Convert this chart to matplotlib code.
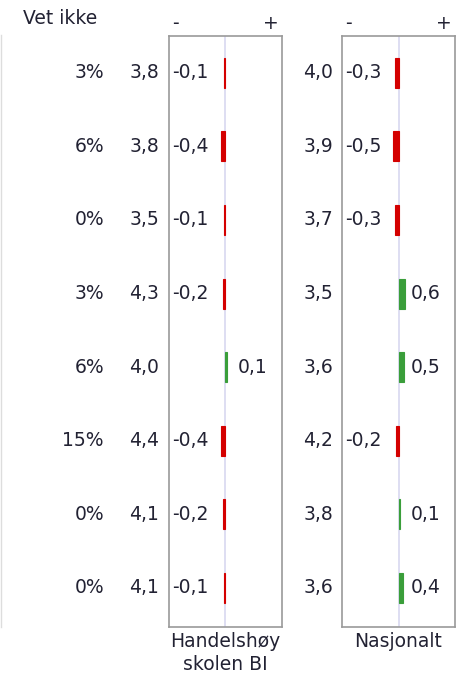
import numpy as np
import matplotlib.pyplot as plt
from matplotlib.transforms import blended_transform_factory
from matplotlib.lines import Line2D

vet_ikke = [3, 6, 0, 3, 6, 15, 0, 0]
snitt_bi = [3.8, 3.8, 3.5, 4.3, 4.0, 4.4, 4.1, 4.1]
diff_bi = [-0.1, -0.4, -0.1, -0.2, 0.1, -0.4, -0.2, -0.1]
snitt_nasj = [4.0, 3.9, 3.7, 3.5, 3.6, 4.2, 3.8, 3.6]
diff_nasj = [-0.3, -0.5, -0.3, 0.6, 0.5, -0.2, 0.1, 0.4]
kolonner = ["Handelshøy\nskolen BI", "Nasjonalt"]

W, H = 460, 676
fig = plt.figure(figsize=(W / 100, H / 100), dpi=100)
plt.rcParams['font.family'] = ['DejaVu Sans']
fs = 13.5
tc = "#222233"
red = "#d40000"
green = "#3a9e3a"


def fx(px):
    return px / W


def fy(px):
    return 1 - px / H


def fmt(v):
    return f"{v:.1f}".replace(".", ",")


top, bottom = 36, 627
boxes = [(169, 282), (342, 455)]
axes = []
for (x0, x1), diffs in zip(boxes, [diff_bi, diff_nasj]):
    ax = fig.add_axes([fx(x0), fy(bottom), (x1 - x0) / W, (bottom - top) / H])
    ax.set_xlim(-5.5, 5.5)
    ax.set_ylim(7.53, -0.5)
    ax.set_xticks([])
    ax.set_yticks([])
    for s in ax.spines.values():
        s.set_color("#9a9a9a")
        s.set_linewidth(1.2)
    ax.axvline(0, color="#d8d8f0", lw=1.2, zorder=1)
    y = np.arange(len(diffs))
    cols = [green if d > 0 else red for d in diffs]
    ax.barh(y, diffs, height=0.41, color=cols, edgecolor=cols, linewidth=0.8, zorder=2)
    for yi, d in zip(y, diffs):
        if d < 0:
            ax.text(0.025, yi, fmt(d), transform=blended_transform_factory(ax.transAxes, ax.transData),
                    ha="left", va="center", fontsize=fs, color=tc)
        else:
            ax.text(1.2, yi, fmt(d), ha="left", va="center", fontsize=fs, color=tc)
    ax.text(0.03, 1.005, "-", transform=ax.transAxes, ha="left", va="bottom", fontsize=fs, color=tc)
    ax.text(0.97, 1.005, "+", transform=ax.transAxes, ha="right", va="bottom", fontsize=fs, color=tc)
    axes.append(ax)

tr = blended_transform_factory(fig.transFigure, axes[0].transData)
for i in range(len(vet_ikke)):
    axes[0].text(fx(104), i, f"{vet_ikke[i]}%", transform=tr, ha="right", va="center", fontsize=fs, color=tc)
    axes[0].text(fx(159), i, fmt(snitt_bi[i]), transform=tr, ha="right", va="center", fontsize=fs, color=tc)
    axes[0].text(fx(333), i, fmt(snitt_nasj[i]), transform=tr, ha="right", va="center", fontsize=fs, color=tc)

fig.text(fx(23), fy(19), "Vet ikke", ha="left", va="center", fontsize=fs, color=tc)
for (x0, x1), lab in zip(boxes, kolonner):
    fig.text(fx((x0 + x1) / 2), fy(632), lab, ha="center", va="top", fontsize=fs, color=tc, linespacing=1.3)

fig.add_artist(Line2D([fx(0.5), fx(0.5)], [fy(35), fy(627)], color="#dddddd", lw=1, transform=fig.transFigure))

fig.savefig("out.png", dpi=100)
